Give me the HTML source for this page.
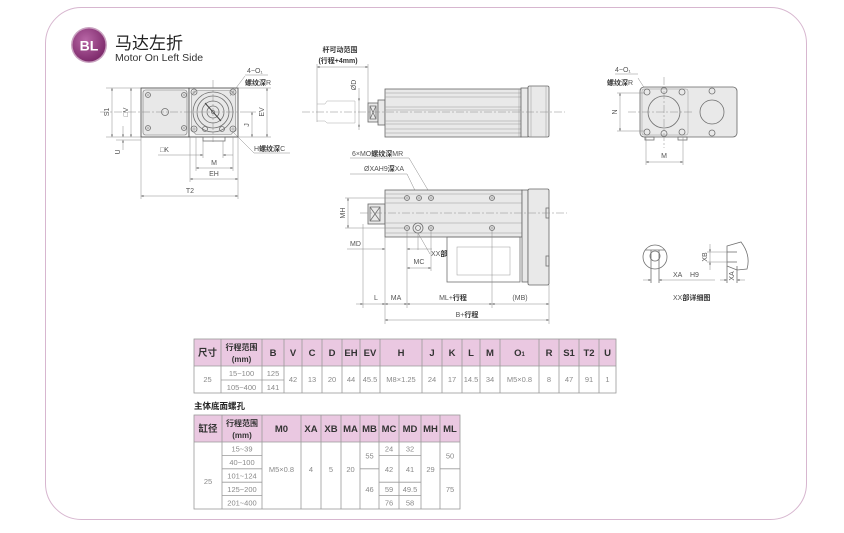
<!DOCTYPE html>
<html><head><meta charset="utf-8">
<style>
html,body{margin:0;padding:0;background:#fff;}
svg{display:block;}
text{font-family:"Liberation Sans","Noto Sans CJK SC",sans-serif;}
.l{stroke:#707070;stroke-width:.8;fill:none}
.f{stroke:#666;stroke-width:.8;fill:#e9e9e9}
.t{stroke:#999;stroke-width:.5;fill:none}
.d{stroke:#8a8a8a;stroke-width:.5;fill:none}
.c{stroke:#8a8a8a;stroke-width:.5;fill:none;stroke-dasharray:8 2 2 2}
.x{stroke:#777;stroke-width:.4;fill:none}
.lb{font-size:7px;fill:#555}
.lbb{font-size:7px;fill:#333;font-weight:bold}
.g{stroke:#9a9a9a;stroke-width:.8;fill:none}
.h{font-size:9.5px;font-weight:bold;fill:#333;text-anchor:middle}
.h2{font-size:8px;font-weight:bold;fill:#333;text-anchor:middle}
.v{font-size:7.5px;fill:#8a8a8a;text-anchor:middle}
</style></head>
<body>
<svg width="844" height="533" viewBox="0 0 844 533" xmlns="http://www.w3.org/2000/svg">
<defs>
<marker id="a" viewBox="0 0 6 6" refX="6" refY="3" markerWidth="5" markerHeight="5" orient="auto-start-reverse"><path d="M0,1 L6,3 L0,5 Z" fill="#555"/></marker>
<radialGradient id="bg" cx="40%" cy="35%" r="70%"><stop offset="0" stop-color="#b866a6"/><stop offset="1" stop-color="#7a2768"/></radialGradient>
</defs>
<rect x="0" y="0" width="844" height="533" fill="#fff"/>
<rect x="45.5" y="7.5" width="761" height="512" rx="36" fill="none" stroke="#d7b6cf" stroke-width="1"/>

<!-- badge -->
<circle cx="89" cy="45" r="18" fill="#c9a2c0"/>
<circle cx="89" cy="45" r="16.5" fill="url(#bg)"/>
<text x="89" y="50.5" font-size="14" font-weight="bold" fill="#fff" text-anchor="middle">BL</text>
<text x="115" y="49" font-size="17" fill="#222">马达左折</text>
<text x="115" y="61" font-size="10.5" fill="#333">Motor On Left Side</text>

<!-- ============ LEFT DRAWING ============ -->
<rect x="141" y="88" width="48" height="49" fill="#f4f4f4" stroke="#555" stroke-width=".9"/>
<rect x="143" y="90" width="44" height="45" rx="2.5" fill="#e8e8e8" stroke="#777" stroke-width=".6"/>
<g class="l" stroke-width=".6" fill="#f2f2f2">
<circle cx="148" cy="95" r="2.5"/><circle cx="184" cy="95" r="2.5"/>
<circle cx="148" cy="128" r="2.5"/><circle cx="184" cy="128" r="2.5"/>
</g>
<path class="x" d="M146.5,95h3M148,93.5v3M182.5,95h3M184,93.5v3M146.5,128h3M148,126.5v3M182.5,128h3M184,126.5v3"/>
<circle cx="165" cy="112" r="3.5" class="l" stroke-width=".6"/>
<rect x="189" y="88" width="49" height="49" fill="#f4f4f4" stroke="#555" stroke-width=".9"/>
<path d="M196,90.5 L231,90.5 L235.5,95 L235.5,130 L231,134.5 L196,134.5 L191.5,130 L191.5,95 Z" fill="#e8e8e8" stroke="#888" stroke-width=".6"/>
<rect x="203" y="137" width="22" height="4" class="l"/>
<g class="l" stroke-width=".6">
<circle cx="213" cy="112" r="20"/><circle cx="213" cy="112" r="16"/>
<circle cx="213" cy="112" r="11"/><circle cx="213" cy="112" r="6"/><circle cx="213" cy="112" r="1.5"/>
</g>
<g class="l" stroke-width=".6" fill="#f2f2f2">
<circle cx="194" cy="92" r="3"/><circle cx="233" cy="92" r="3"/>
<circle cx="194" cy="129" r="3"/><circle cx="233" cy="129" r="3"/>
<circle cx="205" cy="129" r="2.5"/><circle cx="222" cy="129" r="2.5"/>
</g>
<path class="x" d="M192,92h4M194,90v4M231,92h4M233,90v4M192,129h4M194,127v4M231,129h4M233,127v4"/>
<line x1="205" y1="103" x2="221" y2="121" stroke="#444" stroke-width="1"/>
<line x1="100" y1="112" x2="242" y2="112" class="c"/>
<line x1="213" y1="80" x2="213" y2="142" class="c"/>
<!-- dims -->
<g class="d">
<line x1="106" y1="88" x2="141" y2="88"/><line x1="106" y1="137" x2="141" y2="137"/>
<line x1="112" y1="88" x2="112" y2="137" marker-start="url(#a)" marker-end="url(#a)"/>
<line x1="131" y1="88" x2="131" y2="137" marker-start="url(#a)" marker-end="url(#a)"/>
<line x1="123" y1="126" x2="123" y2="137" marker-end="url(#a)"/>
<line x1="123" y1="150" x2="123" y2="140" marker-end="url(#a)"/>
<line x1="116" y1="140" x2="141" y2="140"/>
<line x1="238" y1="88" x2="271" y2="88"/><line x1="238" y1="137" x2="271" y2="137"/>
<line x1="242" y1="112" x2="256" y2="112"/>
<line x1="267" y1="88" x2="267" y2="137" marker-start="url(#a)" marker-end="url(#a)"/>
<line x1="252" y1="112" x2="252" y2="137" marker-start="url(#a)" marker-end="url(#a)"/>
<line x1="141" y1="137" x2="141" y2="199"/><line x1="238" y1="137" x2="238" y2="199"/>
<line x1="190" y1="137" x2="190" y2="182"/><line x1="196" y1="137" x2="196" y2="171"/>
<line x1="233" y1="137" x2="233" y2="171"/>
<line x1="203" y1="141" x2="203" y2="158"/><line x1="223" y1="141" x2="223" y2="158"/>
<line x1="158" y1="155" x2="203" y2="155" marker-end="url(#a)"/>
<line x1="233" y1="155" x2="223" y2="155" marker-end="url(#a)"/>
<line x1="196" y1="168" x2="233" y2="168" marker-start="url(#a)" marker-end="url(#a)"/>
<line x1="190" y1="179" x2="238" y2="179" marker-start="url(#a)" marker-end="url(#a)"/>
<line x1="141" y1="196" x2="238" y2="196" marker-start="url(#a)" marker-end="url(#a)"/>
<line x1="245" y1="76" x2="230" y2="96"/><line x1="245" y1="75" x2="268" y2="75"/>
<line x1="232" y1="131" x2="254" y2="153"/><line x1="254" y1="153" x2="290" y2="153"/>
</g>
<text class="lb" transform="translate(109,112) rotate(-90)" text-anchor="middle">S1</text>
<text class="lb" transform="translate(128,112) rotate(-90)" text-anchor="middle">□V</text>
<text class="lb" transform="translate(120,152) rotate(-90)" text-anchor="middle">U</text>
<text class="lb" transform="translate(264,112) rotate(-90)" text-anchor="middle">EV</text>
<text class="lb" transform="translate(249,125) rotate(-90)" text-anchor="middle">J</text>
<text class="lb" x="247" y="73">4−O₁</text>
<text class="lbb" x="245" y="85">螺纹深<tspan font-weight="normal" fill="#555">R</tspan></text>
<text class="lb" x="254" y="151">H<tspan font-weight="bold" fill="#333">螺纹深</tspan>C</text>
<text class="lb" x="160" y="152">□K</text>
<text class="lb" x="214" y="165" text-anchor="middle">M</text>
<text class="lb" x="214" y="176" text-anchor="middle">EH</text>
<text class="lb" x="190" y="193" text-anchor="middle">T2</text>

<!-- ============ MIDDLE TOP ============ -->
<text class="lbb" x="340" y="52" text-anchor="middle">杆可动范围</text>
<text class="lbb" x="338" y="63" text-anchor="middle" font-size="6.5">(行程+4mm)</text>
<g class="d">
<line x1="317" y1="67" x2="368" y2="67" marker-start="url(#a)" marker-end="url(#a)"/>
<line x1="317" y1="64" x2="317" y2="122"/><line x1="368" y1="64" x2="368" y2="103"/>
<line x1="359" y1="88" x2="359" y2="101" marker-end="url(#a)"/>
<line x1="359" y1="130" x2="359" y2="124" marker-end="url(#a)"/>
<line x1="359" y1="101" x2="359" y2="124"/>
</g>
<path d="M317,104 L325,104 L327,101 L355,101 L355,123 L327,123 L325,121 L317,121" fill="none" stroke="#aaa" stroke-width=".5"/>
<text class="lb" transform="translate(356,85) rotate(-90)" text-anchor="middle">ØD</text>
<rect x="368" y="103" width="10" height="19" class="f" fill="#eee"/>
<rect x="370" y="106" width="6" height="13" class="l" stroke-width=".5"/>
<path d="M370,106 L376,119 M376,106 L370,119" class="l" stroke-width=".5"/>
<rect x="378" y="100" width="7" height="25" class="f"/>
<rect x="385" y="89" width="136" height="48" class="f"/>
<g class="t">
<line x1="385" y1="93" x2="521" y2="93"/><line x1="385" y1="97" x2="521" y2="97"/>
<line x1="385" y1="107" x2="521" y2="107"/><line x1="385" y1="110" x2="521" y2="110"/>
<line x1="385" y1="121" x2="521" y2="121"/><line x1="385" y1="124" x2="521" y2="124"/>
<line x1="385" y1="129" x2="521" y2="129"/><line x1="385" y1="133" x2="521" y2="133"/>
<line x1="519" y1="89" x2="519" y2="137"/>
</g>
<rect x="521" y="88" width="7" height="49" class="f"/>
<rect x="528" y="86" width="21" height="51" rx="1.5" class="f"/>
<line x1="531" y1="86" x2="531" y2="137" class="t"/><line x1="546" y1="86" x2="546" y2="137" class="t"/>
<line x1="302" y1="112" x2="565" y2="112" class="c"/>

<!-- ============ MIDDLE LOWER ============ -->
<text class="lb" x="352" y="156">6×MO<tspan class="lbb">螺纹深</tspan>MR</text>
<text class="lb" x="364" y="171">ØXAH9<tspan class="lbb">深</tspan>XA</text>
<g class="d">
<line x1="350" y1="158" x2="409" y2="158"/><line x1="409" y1="158" x2="438" y2="207"/>
<line x1="350" y1="174" x2="407" y2="174"/><line x1="407" y1="174" x2="424" y2="209"/>
</g>
<rect x="368" y="204" width="17" height="20" class="f" fill="#eee"/>
<rect x="370" y="207" width="10" height="14" class="l" stroke-width=".5"/>
<path d="M370,207 L380,221 M380,207 L370,221" class="l" stroke-width=".5"/>
<rect x="385" y="190" width="137" height="47" class="f"/>
<g class="t">
<line x1="385" y1="194" x2="522" y2="194"/><line x1="385" y1="203" x2="522" y2="203"/>
<line x1="385" y1="223" x2="522" y2="223"/><line x1="385" y1="233" x2="522" y2="233"/>
</g>
<rect x="447" y="237" width="73" height="45" class="l" fill="#f2f2f2"/>
<rect x="457" y="247" width="53" height="28" class="t"/>
<rect x="522" y="190" width="6" height="92" class="f"/>
<rect x="528" y="189" width="21" height="96" rx="1.5" class="f"/>
<rect x="546" y="208" width="3" height="10" class="l" stroke-width=".5"/>
<rect x="546" y="256" width="3" height="10" class="l" stroke-width=".5"/>
<g class="l" stroke-width=".6">
<circle cx="407" cy="198" r="2.5"/><circle cx="419" cy="198" r="2.5"/><circle cx="431" cy="198" r="2.5"/><circle cx="492" cy="198" r="2.5"/>
<circle cx="407" cy="228" r="2.5"/><circle cx="431" cy="228" r="2.5"/><circle cx="492" cy="228" r="2.5"/>
<circle cx="418" cy="228" r="5"/><circle cx="418" cy="228" r="2.5"/>
</g>
<path class="x" d="M404,198h6M407,195v6M416,198h6M419,195v6M428,198h6M431,195v6M489,198h6M492,195v6M404,228h6M407,225v6M428,228h6M431,225v6M489,228h6M492,225v6"/>
<line x1="360" y1="213" x2="567" y2="213" class="c"/>
<g class="d">
<line x1="345" y1="198" x2="404" y2="198"/><line x1="345" y1="228" x2="404" y2="228"/>
<line x1="348" y1="198" x2="348" y2="228" marker-start="url(#a)" marker-end="url(#a)"/>
<line x1="347" y1="249" x2="385" y2="249" marker-end="url(#a)"/>
<line x1="432" y1="249" x2="407" y2="249" marker-end="url(#a)"/>
<line x1="418" y1="233" x2="430" y2="254"/>
<line x1="407" y1="268" x2="431" y2="268" marker-start="url(#a)" marker-end="url(#a)"/>
<line x1="363" y1="224" x2="363" y2="308"/><line x1="385" y1="237" x2="385" y2="324"/>
<line x1="407" y1="231" x2="407" y2="308"/><line x1="431" y1="231" x2="431" y2="271"/>
<line x1="418" y1="233" x2="418" y2="250"/>
<line x1="492" y1="231" x2="492" y2="308"/><line x1="549" y1="285" x2="549" y2="324"/>
<line x1="356" y1="304" x2="363" y2="304" marker-end="url(#a)"/>
<line x1="363" y1="304" x2="385" y2="304" marker-end="url(#a)"/>
<line x1="385" y1="304" x2="407" y2="304" marker-start="url(#a)" marker-end="url(#a)"/>
<line x1="407" y1="304" x2="492" y2="304" marker-start="url(#a)" marker-end="url(#a)"/>
<line x1="492" y1="304" x2="549" y2="304" marker-start="url(#a)" marker-end="url(#a)"/>
<line x1="385" y1="320" x2="549" y2="320" marker-start="url(#a)" marker-end="url(#a)"/>
</g>
<text class="lb" transform="translate(345,213) rotate(-90)" text-anchor="middle">MH</text>
<text class="lb" x="350" y="246">MD</text>
<text class="lb" x="431" y="256">XX<tspan class="lbb">部</tspan></text>
<text class="lb" x="419" y="264" text-anchor="middle">MC</text>
<text class="lb" x="376" y="300" text-anchor="middle">L</text>
<text class="lb" x="396" y="300" text-anchor="middle">MA</text>
<text class="lb" x="453" y="300" text-anchor="middle">ML+<tspan class="lbb">行程</tspan></text>
<text class="lb" x="520" y="300" text-anchor="middle">(MB)</text>
<text class="lb" x="467" y="317" text-anchor="middle">B+<tspan class="lbb">行程</tspan></text>

<!-- ============ RIGHT DRAWING ============ -->
<text class="lb" x="615" y="72">4−O₁</text>
<text class="lbb" x="607" y="85">螺纹深<tspan font-weight="normal" fill="#555">R</tspan></text>
<g class="d"><line x1="615" y1="74" x2="638" y2="74"/><line x1="638" y1="78" x2="652" y2="100"/></g>
<rect x="640" y="87" width="97" height="50" rx="4" class="f"/>
<rect x="642" y="89" width="46" height="46" rx="2" class="t"/>
<rect x="645" y="137" width="9" height="3" class="l" stroke-width=".5"/>
<rect x="678" y="137" width="9" height="3" class="l" stroke-width=".5"/>
<g class="l" stroke-width=".6">
<circle cx="664" cy="112" r="16"/><circle cx="712" cy="112" r="12"/>
<circle cx="647" cy="92" r="3"/><circle cx="664" cy="90.5" r="3"/><circle cx="682" cy="92" r="3"/>
<circle cx="647" cy="132" r="3"/><circle cx="664" cy="133.5" r="3"/><circle cx="682" cy="132" r="3"/>
<circle cx="712" cy="91" r="3"/><circle cx="712" cy="133" r="3"/>
</g>
<line x1="628" y1="112" x2="692" y2="112" class="c"/>
<line x1="664" y1="77" x2="664" y2="148" class="c"/>
<g class="d">
<line x1="617" y1="93" x2="645" y2="93"/><line x1="617" y1="131" x2="645" y2="131"/>
<line x1="620" y1="93" x2="620" y2="131" marker-start="url(#a)" marker-end="url(#a)"/>
<line x1="646" y1="137" x2="646" y2="165"/><line x1="683" y1="137" x2="683" y2="165"/>
<line x1="646" y1="162" x2="683" y2="162" marker-start="url(#a)" marker-end="url(#a)"/>
</g>
<text class="lb" transform="translate(617,112) rotate(-90)" text-anchor="middle">N</text>
<text class="lb" x="664" y="158" text-anchor="middle">M</text>

<!-- XX detail -->
<g class="l" stroke-width=".6">
<circle cx="655" cy="257" r="12"/><circle cx="655" cy="256" r="5"/>
<line x1="645" y1="250" x2="665" y2="250"/>
<line x1="651" y1="250" x2="651" y2="283"/><line x1="659" y1="250" x2="659" y2="283"/>
<path d="M727,246 L741,242 Q751,255 747,269 L737,270 L727,266 Z"/>
<line x1="727" y1="252" x2="737" y2="252"/><line x1="727" y1="262" x2="737" y2="262"/>
<line x1="727" y1="266" x2="727" y2="283"/><line x1="737" y1="266" x2="737" y2="283"/>
</g>
<g class="d">
<line x1="643" y1="280" x2="651" y2="280" marker-end="url(#a)"/>
<line x1="715" y1="280" x2="659" y2="280" marker-end="url(#a)"/>
<line x1="720" y1="280" x2="727" y2="280" marker-end="url(#a)"/>
<line x1="745" y1="280" x2="737" y2="280" marker-end="url(#a)"/>
<line x1="707" y1="252" x2="727" y2="252"/><line x1="707" y1="262" x2="727" y2="262"/>
<line x1="710" y1="244" x2="710" y2="252" marker-end="url(#a)"/>
<line x1="710" y1="270" x2="710" y2="262" marker-end="url(#a)"/>
<line x1="710" y1="252" x2="710" y2="262"/>
</g>
<text class="lb" x="673" y="277">XA</text><text class="lb" x="690" y="277">H9</text>
<text class="lb" transform="translate(707,257) rotate(-90)" text-anchor="middle">XB</text>
<text class="lb" transform="translate(734,276) rotate(-90)" text-anchor="middle">XA</text>
<text class="lb" x="673" y="300">XX<tspan class="lbb">部详细图</tspan></text>

<!-- ============ TABLE 1 ============ -->
<rect x="194" y="339" width="422" height="27" fill="#eac8e1"/>
<rect x="194" y="366" width="422" height="27" fill="#fff"/>
<g class="g">
<rect x="194" y="339" width="422" height="54"/>
<line x1="194" y1="366" x2="616" y2="366"/>
<line x1="221" y1="380" x2="284" y2="380"/>
<line x1="221" y1="339" x2="221" y2="393"/><line x1="262" y1="339" x2="262" y2="393"/>
<line x1="284" y1="339" x2="284" y2="393"/><line x1="302" y1="339" x2="302" y2="393"/>
<line x1="322" y1="339" x2="322" y2="393"/><line x1="342" y1="339" x2="342" y2="393"/>
<line x1="360" y1="339" x2="360" y2="393"/><line x1="380" y1="339" x2="380" y2="393"/>
<line x1="422" y1="339" x2="422" y2="393"/><line x1="442" y1="339" x2="442" y2="393"/>
<line x1="462" y1="339" x2="462" y2="393"/><line x1="480" y1="339" x2="480" y2="393"/>
<line x1="500" y1="339" x2="500" y2="393"/><line x1="539" y1="339" x2="539" y2="393"/>
<line x1="559" y1="339" x2="559" y2="393"/><line x1="579" y1="339" x2="579" y2="393"/>
<line x1="599" y1="339" x2="599" y2="393"/>
</g>
<text class="h" x="207.5" y="356" font-size="9">尺寸</text>
<text class="h2" x="241.5" y="350">行程范围</text>
<text class="h2" x="241.5" y="362">(mm)</text>
<text class="h" x="273" y="356">B</text><text class="h" x="293" y="356">V</text>
<text class="h" x="312" y="356">C</text><text class="h" x="332" y="356">D</text>
<text class="h" x="351" y="356">EH</text><text class="h" x="370" y="356">EV</text>
<text class="h" x="401" y="356">H</text><text class="h" x="432" y="356">J</text>
<text class="h" x="452" y="356">K</text><text class="h" x="471" y="356">L</text>
<text class="h" x="490" y="356">M</text><text class="h" x="519.5" y="356">O<tspan font-size="6">1</tspan></text>
<text class="h" x="549" y="356">R</text><text class="h" x="569" y="356">S1</text>
<text class="h" x="589" y="356">T2</text><text class="h" x="607.5" y="356">U</text>
<text class="v" x="207.5" y="382">25</text>
<text class="v" x="241.5" y="376">15~100</text><text class="v" x="241.5" y="390">105~400</text>
<text class="v" x="273" y="376">125</text><text class="v" x="273" y="390">141</text>
<text class="v" x="293" y="382">42</text><text class="v" x="312" y="382">13</text>
<text class="v" x="332" y="382">20</text><text class="v" x="351" y="382">44</text>
<text class="v" x="370" y="382">45.5</text><text class="v" x="401" y="382">M8×1.25</text>
<text class="v" x="432" y="382">24</text><text class="v" x="452" y="382">17</text>
<text class="v" x="471" y="382">14.5</text><text class="v" x="490" y="382">34</text>
<text class="v" x="519.5" y="382">M5×0.8</text><text class="v" x="549" y="382">8</text>
<text class="v" x="569" y="382">47</text><text class="v" x="589" y="382">91</text>
<text class="v" x="607.5" y="382">1</text>

<!-- ============ TABLE 2 ============ -->
<text x="194" y="409" font-size="8.5" font-weight="bold" fill="#222">主体底面螺孔</text>
<rect x="194" y="415" width="266" height="27" fill="#eac8e1"/>
<g class="g">
<rect x="194" y="415" width="266" height="94"/>
<line x1="194" y1="442" x2="460" y2="442"/>
<line x1="222" y1="415" x2="222" y2="509"/><line x1="262" y1="415" x2="262" y2="509"/>
<line x1="301" y1="415" x2="301" y2="509"/><line x1="321" y1="415" x2="321" y2="509"/>
<line x1="341" y1="415" x2="341" y2="509"/><line x1="360" y1="415" x2="360" y2="509"/>
<line x1="379" y1="415" x2="379" y2="509"/><line x1="399" y1="415" x2="399" y2="509"/>
<line x1="421" y1="415" x2="421" y2="509"/><line x1="440" y1="415" x2="440" y2="509"/>
<line x1="222" y1="455.4" x2="262" y2="455.4"/><line x1="222" y1="468.8" x2="262" y2="468.8"/>
<line x1="222" y1="482.2" x2="262" y2="482.2"/><line x1="222" y1="495.6" x2="262" y2="495.6"/>
<line x1="360" y1="468.8" x2="379" y2="468.8"/>
<line x1="379" y1="455.4" x2="421" y2="455.4"/><line x1="379" y1="482.2" x2="421" y2="482.2"/>
<line x1="379" y1="495.6" x2="421" y2="495.6"/>
<line x1="440" y1="468.8" x2="460" y2="468.8"/>
</g>
<text class="h" x="208" y="432" font-size="9">缸径</text>
<text class="h2" x="242" y="426">行程范围</text>
<text class="h2" x="242" y="438">(mm)</text>
<text class="h" x="281.5" y="432">M0</text><text class="h" x="311" y="432">XA</text>
<text class="h" x="331" y="432">XB</text><text class="h" x="350.5" y="432">MA</text>
<text class="h" x="369.5" y="432">MB</text><text class="h" x="389" y="432">MC</text>
<text class="h" x="410" y="432">MD</text><text class="h" x="430.5" y="432">MH</text>
<text class="h" x="450" y="432">ML</text>
<text class="v" x="208" y="484">25</text>
<text class="v" x="242" y="451.7">15~39</text><text class="v" x="242" y="465.1">40~100</text>
<text class="v" x="242" y="478.5">101~124</text><text class="v" x="242" y="491.9">125~200</text>
<text class="v" x="242" y="505.3">201~400</text>
<text class="v" x="281.5" y="472">M5×0.8</text>
<text class="v" x="311" y="472">4</text><text class="v" x="331" y="472">5</text>
<text class="v" x="350.5" y="472">20</text>
<text class="v" x="369.5" y="458.4">55</text><text class="v" x="369.5" y="492">46</text>
<text class="v" x="389" y="451.7">24</text><text class="v" x="410" y="451.7">32</text>
<text class="v" x="389" y="471.8">42</text><text class="v" x="410" y="471.8">41</text>
<text class="v" x="389" y="491.9">59</text><text class="v" x="410" y="491.9">49.5</text>
<text class="v" x="389" y="505.3">76</text><text class="v" x="410" y="505.3">58</text>
<text class="v" x="430.5" y="472">29</text>
<text class="v" x="450" y="458.4">50</text><text class="v" x="450" y="492">75</text>
</svg>
</body></html>
